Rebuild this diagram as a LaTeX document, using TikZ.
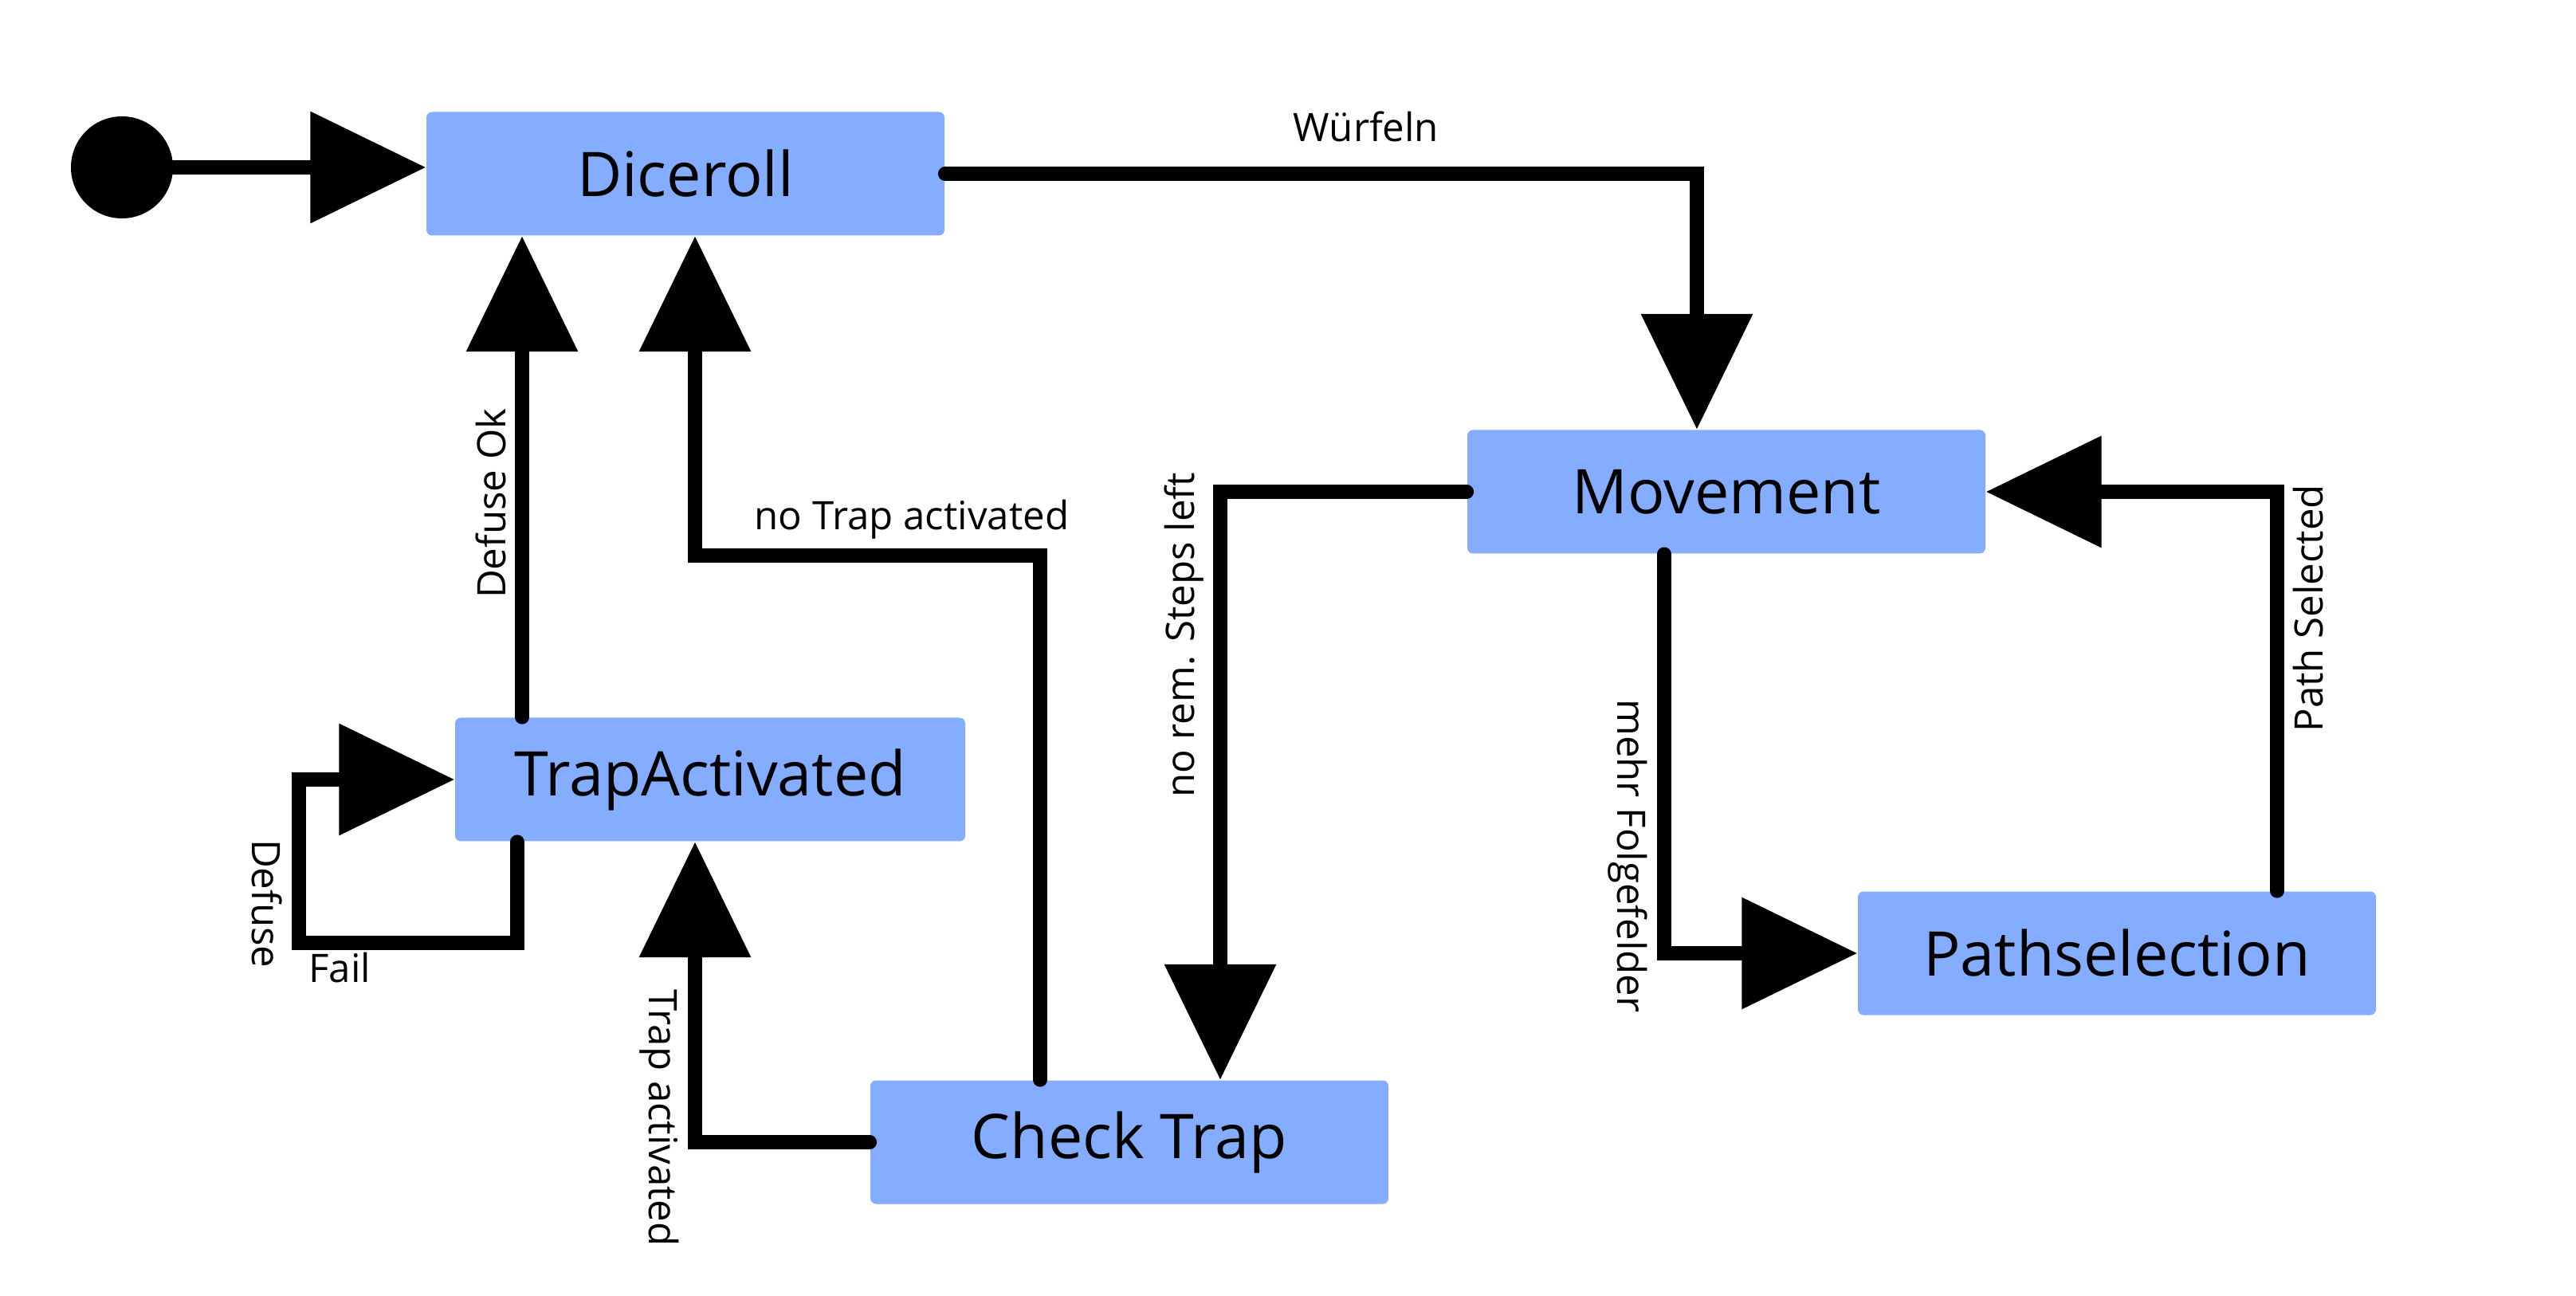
\documentclass[tikz,border=0pt]{standalone}
\usepackage{fontspec}
\setmainfont{Open Sans}
\usetikzlibrary{arrows.meta}
\definecolor{boxblue}{RGB}{132,173,255}

\begin{document}
\begin{tikzpicture}
    \tikzstyle{blue state}=[
        draw = none,
        fill = boxblue,
        minimum width = 65mm,
        minimum height = 15.5mm,
        rounded corners = 2pt,
        font = \fontsize{22}{26}\selectfont
    ]
    \tikzstyle{start}=[
        fill = black,
        circle,
        minimum size = 12.8mm,
        inner sep = 0pt
    ]
    \tikzstyle{flow}=[
        line width = 5pt,
        line cap = round,
        -{Triangle[length=14.5mm, width=13.6mm]}
    ]
    \tikzstyle{lbl}=[font = \fontsize{14}{16}\selectfont]

    \useasboundingbox (0,0) rectangle (32.32,-16.26);

	\node[start]      (i) at (1.53, -2.10)   {};
	\node[blue state] (d) at (8.60, -2.18)   {Diceroll};
	\node[blue state] (m) at (21.66, -6.17)  {Movement};
	\node[blue state] (p) at (26.56, -11.96) {Pathselection};
	\node[blue state] (c) at (14.17, -14.33) {Check Trap};
	\node[blue state, minimum width = 64mm] (t) at (8.91, -9.78) {TrapActivated};

	\coordinate (b)  at (8.72, -6.97);
	\coordinate (l)  at (3.75, -11.83);
	\coordinate (t1) at ([xshift=-23.6mm]t.north);

	\draw[flow] (i.east) -- (i.east -| d.west);
	\draw[flow] (d.east) -| node[lbl, pos=0.28, above, yshift=2mm]{Würfeln} ([xshift=-3.7mm]m.north);
	\draw[flow] ([xshift=-7.8mm]m.south) |- node[lbl, pos=0.378, rotate=-90, anchor=north]{mehr Folgefelder} (p.west);
	\draw[flow] ([xshift=20.1mm]p.north) |- node[lbl, pos=0.354, rotate=90, anchor=north]{Path Selected} (m.east);
	\draw[flow] (m.west) -| node[lbl, pos=0.622, rotate=90, anchor=south]{no rem. Steps left} ([xshift=11.4mm]c.north);
	\draw[flow] (c.west) -| node[lbl, pos=0.54, rotate=-90, anchor=north]{Trap activated} ([xshift=-1.9mm]t.south);
	\draw[flow] ([xshift=-11.2mm]c.north) |- node[lbl, pos=0.686, above]{no Trap activated} (b) -- (b |- d.south);
	\draw[flow] (t1) -- node[lbl, pos=0.444, rotate=90, anchor=south]{Defuse Ok} (t1 |- d.south);
	\draw[flow] ([xshift=-24.2mm]t.south) |- (l) node[lbl, below right, inner sep=1pt]{Fail}
	    |- node[lbl, pos=0.12, rotate=-90, anchor=north]{Defuse} (t.west);

\end{tikzpicture}
\end{document}
